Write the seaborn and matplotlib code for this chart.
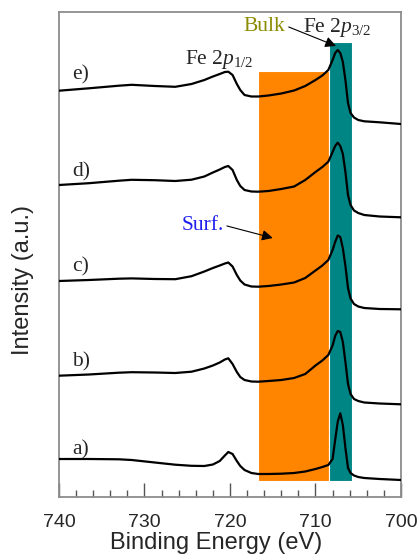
import numpy as np
import pandas as pd
import matplotlib
matplotlib.use("Agg")
import matplotlib.pyplot as plt
import seaborn as sns

# binding energy grid (eV) shared by all spectra
energy = [740, 736.5, 733, 731.5, 728.8, 726.4, 724.5, 723, 722, 721.2, 720.6, 720.2,
          719.7, 719.2, 718.8, 718.3, 717.5, 716.7, 715.5, 714, 712.5, 711.2, 710,
          709.2, 708.5, 708.0, 707.7, 707.4, 707.1, 706.8, 706.5, 706.2, 705.9,
          705.5, 705.0, 704.3, 702.5, 700]

# stacked intensities (a.u., offset already included)
spec_a = [41, 41, 40.7, 40, 37.5, 35.3, 34.2, 34, 35.5, 39, 44.5, 48, 46, 39, 34, 30, 27,
          26, 26, 26.3, 27, 28.5, 31, 33, 35, 41, 60, 78.3, 86.7, 75, 52, 32, 27, 24.5,
          23, 22, 21, 20]
spec_b = [124.3, 125.5, 127.3, 127.8, 127.5, 127, 128.3, 131.5, 134.5, 137.5, 140.5,
          141.7, 136, 128, 123, 120, 118.5, 118.3, 119, 120, 122, 126, 134.5, 139.5, 145,
          154.5, 164, 169, 168, 158, 138, 116, 106, 101, 99, 97.5, 96.5, 95.7]
spec_c = [219, 220, 221.3, 221.6, 221, 220.8, 223.8, 228.5, 232, 234.5, 236.5, 237.5,
          233.5, 225, 219.5, 215.5, 213.5, 213.3, 214, 215.5, 217.5, 222, 229.5, 234.5,
          240, 250, 258, 264.5, 263, 251.7, 234, 212, 201.5, 196, 193.5, 192, 191, 190.7]
spec_d = [315, 316.8, 319.3, 320.2, 319.8, 319, 320.3, 323.5, 327.5, 330.5, 333, 334, 330,
          320, 314, 310, 308.5, 308.3, 309, 311, 313.5, 320, 328, 333, 338.3, 348, 354,
          357.3, 354, 346, 328, 305, 295, 289.5, 287, 285, 283.5, 282.7]
spec_e = [409.3, 411.7, 414.3, 415.2, 414, 413.2, 416, 420, 423.5, 426, 428, 428.3, 425,
          416, 410, 405, 403.5, 403.5, 404.5, 406.5, 409.5, 414, 420, 424.5, 430, 440,
          447, 450, 447, 438, 420, 397, 387, 382.5, 380, 378.7, 377.7, 376]

sample_labels = ["a)", "b)", "c)", "d)", "e)"]
label_y = [50, 138, 233, 328, 425]

# shaded regions: (left eV, right eV, top)
surf_band = (716.76, 708.4, 429)
bulk_band = (708.4, 705.7, 458)
band_bottom = 19

rows = []
for lab, vals in zip(sample_labels, [spec_a, spec_b, spec_c, spec_d, spec_e]):
    for e, v in zip(energy, vals):
        rows.append({"energy": e, "intensity": v, "sample": lab})
df = pd.DataFrame(rows)

sns.set_style("ticks")
plt.rcParams["font.family"] = ["Liberation Sans", "DejaVu Sans"]
plt.rcParams["mathtext.fontset"] = "custom"
plt.rcParams["mathtext.rm"] = "Liberation Serif"
plt.rcParams["mathtext.it"] = "Liberation Serif:italic"

fig = plt.figure(figsize=(4.19, 5.58), dpi=100)
ax = fig.add_axes([59 / 419, 1 - 497 / 558, (401 - 59) / 419, (497 - 12) / 558])

ax.fill_between([surf_band[0], surf_band[1]], band_bottom, surf_band[2],
                color="#ff8400", edgecolor="white", linewidth=0.8, zorder=1)
ax.fill_between([bulk_band[0], bulk_band[1]], band_bottom, bulk_band[2],
                color="#008585", edgecolor="white", linewidth=0.8, zorder=1)

sns.lineplot(data=df, x="energy", y="intensity", units="sample", estimator=None,
             color="black", linewidth=1.6, ax=ax, zorder=3, sort=True)

ax.set_xlim(740, 700)
ax.set_ylim(3, 488)
ax.set_xticks([740, 730, 720, 710, 700])
ax.set_xticks(np.arange(700, 741, 2), minor=True)
ax.set_yticks([])
ax.tick_params(axis="x", which="major", direction="in", length=10, width=1,
               color="#555555", labelsize=14, pad=12)
ax.tick_params(axis="x", which="minor", direction="in", length=5, width=1,
               color="#555555")
for sp in ax.spines.values():
    sp.set_color("#8c8c8c")
    sp.set_linewidth(1.3)

ax.set_xlabel("Binding Energy (eV)", fontsize=17)
ax.set_ylabel("Intensity (a.u.)", fontsize=17)
ax.xaxis.set_label_coords(0.459, -0.072)
ax.yaxis.set_label_coords(-0.072, 0.447)

serif = "Liberation Serif"
for lab, y in zip(sample_labels, label_y):
    ax.text(738.5, y, lab, fontsize=15.5, family=serif, va="center", ha="left")

ax.text(725.3, 435.7, r"$\mathrm{Fe\ 2}\mathit{p}_{\mathrm{1/2}}$", fontsize=15.5,
        va="baseline", ha="left")
ax.text(711.5, 468.3, r"$\mathrm{Fe\ 2}\mathit{p}_{\mathrm{3/2}}$", fontsize=15.5,
        va="baseline", ha="left")

ax.annotate("Bulk", xy=(707.6, 454), xytext=(718.4, 469), color="#8b8b00",
            fontsize=15.5, family=serif, va="baseline", ha="left",
            arrowprops=dict(arrowstyle="-|>", color="black", lw=0.8,
                            mutation_scale=16, shrinkA=0, shrinkB=0,
                            relpos=(1.05, 0.5)))
ax.annotate("Surf.", xy=(715.0, 262), xytext=(725.7, 275), color="#2020ee",
            fontsize=15.5, family=serif, va="center", ha="left",
            arrowprops=dict(arrowstyle="-|>", color="black", lw=0.8,
                            mutation_scale=16, shrinkA=0, shrinkB=0,
                            relpos=(1.08, 0.45)))

fig.savefig("out.png", dpi=100)
